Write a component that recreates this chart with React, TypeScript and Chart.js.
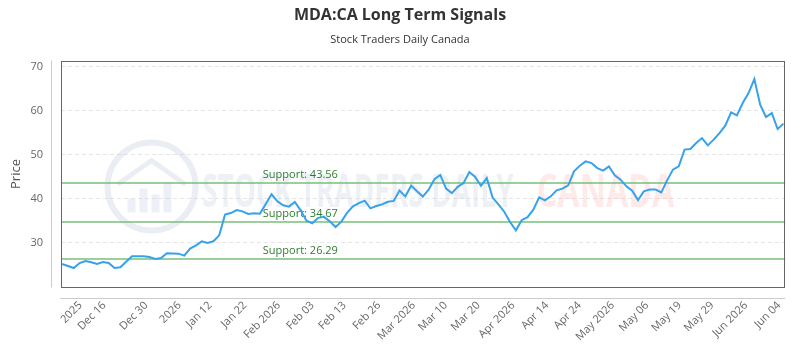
import React, { useEffect, useRef } from 'react';
import { Chart, registerables } from 'chart.js';

Chart.register(...registerables);

const titleText = 'MDA:CA Long Term Signals';
const subtitleText = 'Stock Traders Daily Canada';
const yAxisTitle = 'Price';

const prices = [
  25.14, 24.68, 24.23, 25.36, 25.82, 25.52, 25.14, 25.59, 25.36, 24.23,
  24.39, 25.64, 26.89, 26.89, 26.89, 26.73, 26.27, 26.5, 27.57, 27.55,
  27.5, 27.05, 28.64, 29.39, 30.3, 29.91, 30.3, 31.66, 36.36, 36.73,
  37.41, 37.11, 36.5, 36.66, 36.59, 38.8, 40.98, 39.39, 38.48, 38.18,
  39.23, 37.34, 35.0, 34.39, 35.64, 35.86, 34.84, 33.55, 34.77, 36.82,
  38.25, 39.0, 39.55, 37.8, 38.32, 38.7, 39.3, 39.48, 41.82, 40.52,
  42.95, 41.66, 40.48, 42.05, 44.43, 45.39, 42.27, 41.25, 42.68, 43.52,
  46.05, 44.95, 42.91, 44.68, 40.23, 38.7, 37.02, 34.68, 32.8, 35.11,
  35.8, 37.5, 40.3, 39.61, 40.52, 41.89, 42.27, 43.02, 46.2, 47.5,
  48.48, 48.09, 46.95, 46.36, 47.34, 45.3, 44.32, 42.8, 41.82, 39.68,
  41.66, 42.05, 42.05, 41.43, 44.16, 46.59, 47.34, 51.14, 51.27, 52.64,
  53.77, 52.11, 53.41, 54.91, 56.59, 59.61, 58.93, 61.73, 64.0, 67.18,
  61.36, 58.55, 59.45, 55.82, 57.05,
];

const tickLabels = [
  '2025', 'Dec 16', 'Dec 30', '2026', 'Jan 12', 'Jan 22', 'Feb 2026', 'Feb 03',
  'Feb 13', 'Feb 26', 'Mar 2026', 'Mar 10', 'Mar 20', 'Apr 2026', 'Apr 14',
  'Apr 24', 'May 2026', 'May 06', 'May 19', 'May 29', 'Jun 2026', 'Jun 04',
];
// data index (fractional) at which each tick label sits
const tickAt = [
  3.15, 7.25, 14.45, 20.15, 25.45, 31.45, 37.25, 43.05, 48.55, 54.45, 60.45,
  65.95, 71.55, 77.55, 83.35, 88.95, 94.65, 100.55, 106.15, 111.75, 117.55, 123.25,
];

const yTicks = [30, 40, 50, 60, 70];
const supportLevels = [43.56, 34.67, 26.29];
const supportLabelAt = 34.5;

const FONT = "'Open Sans', sans-serif";

const decorPlugin = {
  id: 'decor',
  beforeDatasetsDraw(chart: any) {
    const { ctx, chartArea: a, scales } = chart;
    const w = a.right - a.left;
    const h = a.bottom - a.top;
    ctx.save();
    // watermark logo
    const cx = a.left + w * 0.125;
    const cy = a.top + h * 0.555;
    const r = 44;
    ctx.strokeStyle = 'rgba(190,202,222,0.32)';
    ctx.lineWidth = 6;
    ctx.beginPath();
    ctx.arc(cx, cy, r, 0, Math.PI * 2);
    ctx.stroke();
    ctx.fillStyle = 'rgba(190,202,222,0.28)';
    const bars = [[-24, 14], [-12, 24], [0, 18], [12, 30]];
    bars.forEach(([dx, bh]) => {
      ctx.fillRect(cx + dx, cy + 26 - bh, 8, bh);
    });
    ctx.lineWidth = 5;
    ctx.beginPath();
    ctx.moveTo(cx - 34, cy - 2);
    ctx.lineTo(cx, cy - 26);
    ctx.lineTo(cx + 34, cy - 2);
    ctx.stroke();
    // watermark text
    ctx.font = `bold 46px ${FONT}`;
    ctx.textBaseline = 'alphabetic';
    ctx.textAlign = 'left';
    ctx.fillStyle = 'rgba(200,208,222,0.32)';
    ctx.fillText('STOCK TRADERS DAILY', a.left + w * 0.195, a.top + h * 0.645, w * 0.43);
    ctx.fillStyle = 'rgba(255,180,180,0.28)';
    ctx.fillText('CANADA', a.left + w * 0.657, a.top + h * 0.645, w * 0.19);

    // support lines
    const ys = scales.y;
    const xs = scales.x;
    ctx.strokeStyle = 'rgba(120,190,120,0.75)';
    ctx.lineWidth = 2;
    ctx.font = `11px ${FONT}`;
    supportLevels.forEach((lvl) => {
      const y = ys.getPixelForValue(lvl);
      ctx.beginPath();
      ctx.moveTo(a.left, y);
      ctx.lineTo(a.right, y);
      ctx.stroke();
      ctx.fillStyle = '#2e7d32';
      ctx.fillText(`Support: ${lvl.toFixed(2)}`, xs.getPixelForValue(supportLabelAt), y - 5);
    });
    ctx.restore();
  },
  afterDatasetsDraw(chart: any) {
    const { ctx, chartArea: a } = chart;
    ctx.save();
    ctx.strokeStyle = '#666';
    ctx.lineWidth = 1;
    ctx.strokeRect(Math.round(a.left) + 0.5, Math.round(a.top) + 0.5, Math.round(a.right - a.left) - 1, Math.round(a.bottom - a.top) - 1);
    ctx.strokeStyle = '#ccc';
    ctx.beginPath();
    const lx = Math.round(a.left) - 10 + 0.5;
    ctx.moveTo(lx, a.top);
    ctx.lineTo(lx, a.bottom);
    const by = Math.round(a.bottom) + 10 + 0.5;
    ctx.moveTo(a.left - 1, by);
    ctx.lineTo(a.right, by);
    ctx.stroke();
    ctx.restore();
  },
};

export default function App() {
  const ref = useRef<HTMLCanvasElement>(null);
  useEffect(() => {
    const canvas = ref.current;
    if (!canvas) return;
    Chart.defaults.font.family = FONT;
    const chart = new Chart(canvas, {
      type: 'line',
      data: {
        datasets: [
          {
            data: prices.map((v, i) => ({ x: i, y: v })),
            borderColor: '#36a2eb',
            borderWidth: 2,
            pointRadius: 0,
            tension: 0,
            fill: false,
          },
        ],
      },
      options: {
        animation: false,
        responsive: true,
        maintainAspectRatio: false,
        layout: { padding: 0 },
        plugins: {
          legend: { display: false },
          tooltip: { enabled: false },
          title: {
            display: true,
            text: titleText,
            color: '#333',
            font: { size: 16, weight: 'bold', family: FONT },
            padding: { top: 6, bottom: 7.6 },
          },
          subtitle: {
            display: true,
            text: subtitleText,
            color: '#333',
            font: { size: 11, family: FONT },
            padding: { top: 0, bottom: 14.5 },
          },
        },
        scales: {
          x: {
            type: 'linear',
            min: -0.2,
            max: 124.3,
            afterBuildTicks: (s: any) => {
              s.ticks = tickAt.map((v) => ({ value: v }));
            },
            afterFit: (s: any) => {
              s.height = 62.5;
            },
            ticks: {
              autoSkip: false,
              maxRotation: 45,
              minRotation: 45,
              color: '#666',
              font: { size: 11 },
              padding: 11.5,
              callback: (_v: any, i: number) => tickLabels[i] ?? '',
            },
            grid: { display: false, drawTicks: false },
            border: { display: false },
          },
          y: {
            min: 19.8,
            max: 71.4,
            afterBuildTicks: (s: any) => {
              s.ticks = yTicks.map((v) => ({ value: v }));
            },
            afterFit: (s: any) => {
              s.width = 61;
            },
            ticks: { color: '#666', font: { size: 11 }, padding: 18 },
            grid: { color: '#e6e6e6', drawTicks: false },
            border: { display: false, dash: [4, 3] },
            title: {
              display: true,
              text: yAxisTitle,
              color: '#555',
              font: { size: 13 },
              padding: { top: 8, bottom: 0 },
            },
          },
          yRight: {
            position: 'right',
            display: true,
            afterFit: (s: any) => {
              s.width = 10;
            },
            ticks: { display: false },
            grid: { display: false, drawTicks: false },
            border: { display: false },
          },
        },
      },
      plugins: [decorPlugin],
    } as any);
    return () => chart.destroy();
  }, []);
  return (
    <div style={{ position: 'fixed', left: 0, top: 0, width: 800, height: 350, background: '#fff' }}>
      <canvas ref={ref} />
    </div>
  );
}
